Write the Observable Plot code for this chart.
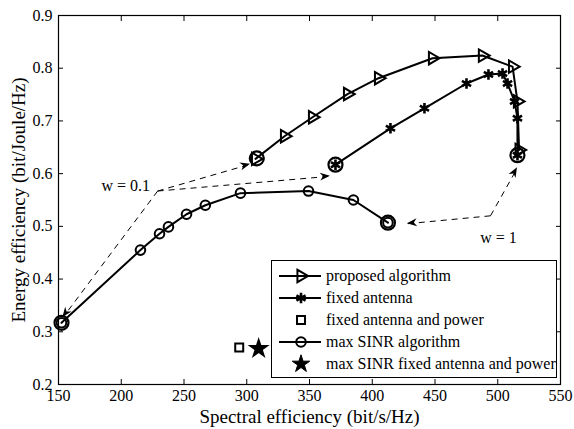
<!DOCTYPE html>
<html><head><meta charset="utf-8">
<script src="https://cdn.jsdelivr.net/npm/d3@7"></script>
<script src="https://cdn.jsdelivr.net/npm/@observablehq/plot@0.6"></script>
<style>
body{margin:0;background:#fff;}
#wrap{position:relative;width:574px;height:429px;font-family:"Liberation Serif","Times New Roman",serif;}
#legend{position:absolute;left:271px;top:260px;width:286px;height:118px;border:1.5px solid #000;background:#fff;box-sizing:border-box;}
.row{position:absolute;left:0;height:22px;display:flex;align-items:center;font-size:16px;color:#000;white-space:nowrap;}
.row svg{display:block;}
</style></head><body><div id="wrap"></div>
<script>
// ---- data ----
const xTicks = [150, 200, 250, 300, 350, 400, 450, 500, 550];
const yTicks = [0.2, 0.3, 0.4, 0.5, 0.6, 0.7, 0.8, 0.9];

const proposedSE = [307.0, 330.1, 352.4, 380.3, 405.0, 448.0, 487.8, 511.8, 515.7, 517.0];
const proposedEE = [0.628, 0.671, 0.707, 0.751, 0.781, 0.819, 0.824, 0.803, 0.737, 0.645];

const fixedSE = [370.7, 414.5, 441.6, 475.1, 492.6, 503.8, 507.8, 513.4, 515.7, 515.7];
const fixedEE = [0.617, 0.686, 0.724, 0.771, 0.788, 0.790, 0.771, 0.737, 0.705, 0.635];

const maxSinrSE = [152.4, 215.3, 230.5, 237.6, 252.0, 267.0, 295.0, 349.2, 385.0, 412.5];
const maxSinrEE = [0.317, 0.455, 0.486, 0.499, 0.523, 0.540, 0.563, 0.567, 0.550, 0.507];

const fixedPowerSE = [294.0];
const fixedPowerEE = [0.270];
const maxSinrFixedSE = [309.5];
const maxSinrFixedEE = [0.268];

// highlighted operating points (w = 0.1 and w = 1)
const wPointSE = [308.0, 370.7, 515.7, 152.4, 412.5];
const wPointEE = [0.629, 0.617, 0.635, 0.317, 0.507];

// annotation arrows
const w01Corner = [229, 0.567];
const w01TargetSE = [303, 366.7, 153.5];
const w01TargetEE = [0.618, 0.595, 0.327];
const w1Corner = [494.2, 0.520];
const w1TargetSE = [515.7, 428];
const w1TargetEE = [0.611, 0.505];

const annotW01 = {t: "w = 0.1", x: 223, y: 0.576};
const annotW1 = {t: "w = 1", x: 486, y: 0.478};

const xTitle = "Spectral efficiency (bit/s/Hz)";
const yTitle = "Energy efficiency (bit/Joule/Hz)";
const legendLabels = ["proposed algorithm", "fixed antenna", "fixed antenna and power", "max SINR algorithm", "max SINR fixed antenna and power"];

// ---- build ----
const zip = (xs, ys) => xs.map((x, i) => ({x, y: ys[i]}));
const proposed = zip(proposedSE, proposedEE);
const fixed = zip(fixedSE, fixedEE);
const maxSinr = zip(maxSinrSE, maxSinrEE);
const fixedPower = zip(fixedPowerSE, fixedPowerEE);
const maxSinrFixed = zip(maxSinrFixedSE, maxSinrFixedEE);
const wPoints = zip(wPointSE, wPointEE);
const arrows = [
  ...w01TargetSE.map((x, i) => ({x1: w01Corner[0], y1: w01Corner[1], x2: x, y2: w01TargetEE[i]})),
  ...w1TargetSE.map((x, i) => ({x1: w1Corner[0], y1: w1Corner[1], x2: x, y2: w1TargetEE[i]}))
];

function arrowHeads(data) {
  return Plot.link(data, {
    x1: "x1", y1: "y1", x2: "x2", y2: "y2",
    render(index, scales, values) {
      const g = d3.create("svg:g");
      for (const i of index) {
        const X1 = values.x1[i], Y1 = values.y1[i], X2 = values.x2[i], Y2 = values.y2[i];
        const a = Math.atan2(Y2 - Y1, X2 - X1);
        const c = Math.cos(a), s = Math.sin(a);
        const pts = [[0, 0], [-10, -4], [-7, 0], [-10, 4]].map(([u, v]) => [X2 + u * c - v * s, Y2 + u * s + v * c]);
        g.append("path").attr("d", "M" + pts.map(p => p.join(",")).join("L") + "Z").attr("fill", "black");
      }
      return g.node();
    }
  });
}

const chart = Plot.plot({
  width: 574, height: 429,
  marginLeft: 58, marginRight: 14, marginTop: 15, marginBottom: 45,
  x: {domain: [150, 550]},
  y: {domain: [0.2, 0.9]},
  style: {fontFamily: '"Liberation Serif", "Times New Roman", serif', background: "white", color: "black"},
  marks: [
    Plot.axisX(xTicks, {anchor: "bottom", tickSize: 0, tickPadding: 5, fontSize: 16, label: null}),
    Plot.axisY(yTicks, {anchor: "left", tickSize: 0, tickPadding: 6, fontSize: 16, label: null, tickFormat: d3.format(".1f")}),
    Plot.axisX(xTicks, {anchor: "bottom", tickSize: -5, fill: "none", label: null}),
    Plot.axisX(xTicks, {anchor: "top", tickSize: -5, fill: "none", label: null}),
    Plot.axisY(yTicks, {anchor: "left", tickSize: -5, fill: "none", label: null}),
    Plot.axisY(yTicks, {anchor: "right", tickSize: -5, fill: "none", label: null}),
    Plot.frame({stroke: "black", strokeWidth: 1.2}),
    Plot.text([xTitle], {text: d => d, frameAnchor: "bottom", lineAnchor: "middle", dy: 32, fontSize: 19, fill: "black"}),
    Plot.text([yTitle], {text: d => d, frameAnchor: "left", textAnchor: "middle", lineAnchor: "middle", rotate: -90, dx: -40, fontSize: 19, fill: "black"}),
    // dashed annotation arrows
    Plot.link(arrows, {x1: "x1", y1: "y1", x2: "x2", y2: "y2", stroke: "black", strokeWidth: 1, strokeDasharray: "6,5"}),
    arrowHeads(arrows),
    Plot.text([annotW01], {x: "x", y: "y", text: "t", textAnchor: "end", fontSize: 16, fill: "black"}),
    Plot.text([annotW1], {x: "x", y: "y", text: "t", textAnchor: "start", fontSize: 16, fill: "black"}),
    // curves
    Plot.line(maxSinr, {x: "x", y: "y", stroke: "black", strokeWidth: 2}),
    Plot.dot(maxSinr, {x: "x", y: "y", symbol: "circle", r: 4.8, stroke: "black", strokeWidth: 2, fill: "none"}),
    Plot.line(fixed, {x: "x", y: "y", stroke: "black", strokeWidth: 2}),
    Plot.dot(fixed, {x: "x", y: "y", symbol: "asterisk", r: 5, stroke: "black", strokeWidth: 2.6}),
    Plot.line(proposed, {x: "x", y: "y", stroke: "black", strokeWidth: 2}),
    Plot.dot(proposed, {x: "x", y: "y", symbol: "triangle", rotate: 90, r: 4.6, stroke: "black", strokeWidth: 2, fill: "none"}),
    Plot.dot(wPoints, {x: "x", y: "y", symbol: "circle", r: 7, stroke: "black", strokeWidth: 2.2, fill: "none"}),
    Plot.dot(fixedPower, {x: "x", y: "y", symbol: "square", r: 4.5, stroke: "black", strokeWidth: 2, fill: "none"}),
    Plot.dot(maxSinrFixed, {x: "x", y: "y", symbol: "star", r: 5.5, fill: "black", stroke: "black"})
  ]
});
const wrap = document.getElementById("wrap");
wrap.appendChild(chart);

// ---- legend (overlay, inside the axes) ----
const legend = document.createElement("div");
legend.id = "legend";
wrap.appendChild(legend);
const area = r => r * r * Math.PI;
const legendMarkers = [
  {line: true, sym: d3.symbolTriangle, r: 4.6, rot: 90, fill: "none", sw: 2},
  {line: true, sym: d3.symbolAsterisk, r: 5, rot: 0, fill: "none", sw: 2.6},
  {line: false, sym: d3.symbolSquare, r: 4.5, rot: 0, fill: "none", sw: 2},
  {line: true, sym: d3.symbolCircle, r: 4.8, rot: 0, fill: "none", sw: 2},
  {line: false, sym: d3.symbolStar, r: 5.5, rot: 0, fill: "black", sw: 1}
];
legendLabels.forEach((lab, i) => {
  const m = legendMarkers[i];
  const row = document.createElement("div");
  row.className = "row";
  row.style.top = (4 + i * 22) + "px";
  const svg = d3.create("svg").attr("width", 54).attr("height", 22);
  if (m.line) svg.append("line").attr("x1", 7).attr("x2", 49).attr("y1", 11).attr("y2", 11).attr("stroke", "black").attr("stroke-width", 2);
  svg.append("path").attr("d", d3.symbol(m.sym, area(m.r))())
    .attr("transform", `translate(29,11) rotate(${m.rot})`)
    .attr("fill", m.fill).attr("stroke", "black").attr("stroke-width", m.sw);
  row.appendChild(svg.node());
  const span = document.createElement("span");
  span.textContent = lab;
  row.appendChild(span);
  legend.appendChild(row);
});
</script>
</body></html>
